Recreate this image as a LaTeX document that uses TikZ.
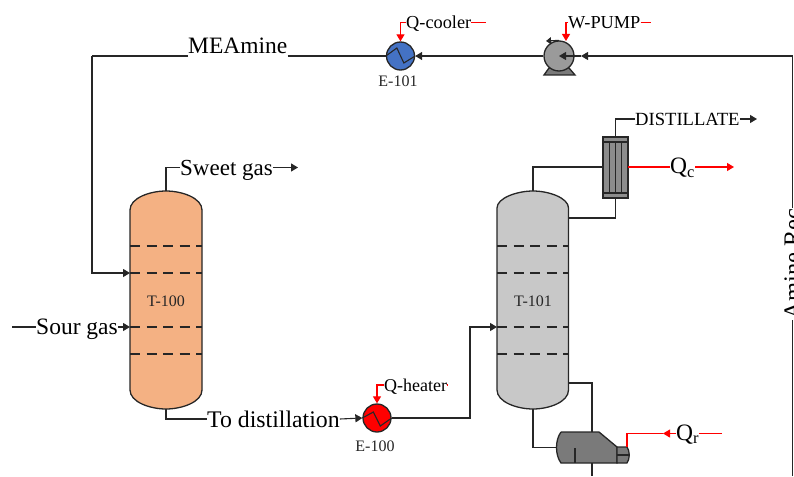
\documentclass[tikz,border=0pt]{standalone}
\usepackage{fontspec}
\setmainfont{Liberation Serif}
\usetikzlibrary{arrows.meta}
\definecolor{absorbfill}{HTML}{F4B183}
\definecolor{stillfill}{HTML}{C8C8C8}
\definecolor{coolerfill}{HTML}{4472C4}
\definecolor{pumpfill}{HTML}{9A9A9A}
\definecolor{rebfill}{HTML}{7A7A7A}
\definecolor{condfill}{HTML}{8C8C8C}
\definecolor{linegray}{HTML}{262626}
\tikzset{
    biglbl/.style={anchor=west,inner sep=0pt,text height=16pt,text depth=1pt,font=\fontsize{23.5}{24}\selectfont},
    qlbl/.style={anchor=west,inner sep=0pt,text height=14pt,text depth=1pt,font=\fontsize{23.5}{24}\selectfont},
    midlbl/.style={anchor=west,inner sep=0pt,text height=12.5pt,text depth=0.5pt,font=\fontsize{18.3}{18}\selectfont},
    tag/.style={anchor=base,inner sep=0pt,text=black!85,font=\fontsize{16}{16}\selectfont},
    stream/.style={draw=linegray,line width=1.1pt},
    heat/.style={draw=red,line width=1.1pt},
    tipin/.style={-{Triangle[length=7pt,width=8pt]}},
    shell/.style={draw=linegray,line width=1.3pt},
    tray/.style={draw=linegray,line width=1.2pt,dash pattern=on 10pt off 6.5pt},
    exch/.style={circle,draw=linegray,line width=1.3pt,minimum size=28pt,inner sep=0pt},
    zig/.style={draw=linegray,line width=1.1pt},
}
\begin{document}
\begin{tikzpicture}[x=1pt,y=-1pt]
    \useasboundingbox (0,0) rectangle (794,476);

    % columns
    \draw[shell,fill=absorbfill] (130,210) .. controls (130,198) and (150,191) .. (166,191)
        .. controls (182,191) and (202,198) .. (202,210) -- (202,390)
        .. controls (202,402) and (182,409) .. (166,409)
        .. controls (150,409) and (130,402) .. (130,390) -- cycle;
    \draw[tray] (130,246) -- (202,246);
    \draw[tray] (130,273) -- (202,273);
    \draw[tray] (130,327) -- (202,327);
    \draw[tray] (130,354) -- (202,354);
    \node[tag] (t100) at (166,306) {T-100};

    \draw[shell,fill=stillfill] (497,208) .. controls (497,198) and (517,191) .. (533,191)
        .. controls (549,191) and (568.5,198) .. (568.5,208) -- (568.5,390)
        .. controls (568.5,402) and (549,409) .. (533,409)
        .. controls (517,409) and (497,402) .. (497,390) -- cycle;
    \draw[tray] (497,246) -- (568.5,246);
    \draw[tray] (497,273) -- (568.5,273);
    \draw[tray] (497,327) -- (568.5,327);
    \draw[tray] (497,354) -- (568.5,354);
    \node[tag] (t101) at (533,306) {T-101};

    \coordinate (t100top) at (166,191);
    \coordinate (t100bot) at (166,409);
    \coordinate (t100feed) at (130,273);
    \coordinate (t100gas) at (130,327);
    \coordinate (t101top) at (533,191);
    \coordinate (t101bot) at (533,409);
    \coordinate (t101feed) at (497,327);
    \coordinate (t101reflux) at (568.5,218);
    \coordinate (t101return) at (568.5,383);

    % exchangers and pump
    \node[exch,fill=coolerfill] (e101) at (400.5,56) {};
    \draw[zig] (e101.west) -- ++(11,-8) -- ++(7,15) -- (e101.east);
    \node[tag] (e101lbl) at (398,87) {E-101};

    \node[exch,fill=red] (e100) at (377,418) {};
    \draw[zig] (e100.west) -- ++(11,-6) -- ++(7,14) -- (e100.east);
    \node[tag] (e100lbl) at (375,451) {E-100};

    \draw[shell,fill=rebfill] (544,75) -- (549,68) -- (569,68) -- (575,75) -- cycle;
    \node[exch,fill=pumpfill,minimum size=30pt] (pump) at (559,56) {};
    \draw[stream,-{Triangle[length=5pt,width=7pt]}] (pump.north) -- (546,41);
    \coordinate (pumpeye) at (559,56);

    % condenser
    \draw[shell,fill=condfill] (603,137) rectangle (628,198);
    \draw[shell] (603,142) -- (628,142);
    \draw[shell] (603,193) -- (628,193);
    \draw[shell] (609.5,142) -- (609.5,193);
    \draw[shell] (615.5,142) -- (615.5,193);
    \draw[shell] (621.5,142) -- (621.5,193);
    \coordinate (condtop) at (615.5,137);
    \coordinate (condbot) at (615.5,198);
    \coordinate (condleft) at (603,167);
    \coordinate (condright) at (628,167);

    % reboiler
    \draw[shell,fill=rebfill] (561,432) -- (599,432) -- (617,447) -- (617,463) -- (561,463)
        .. controls (555,455) and (555,440) .. (561,432);
    \draw[shell,fill=rebfill] (617,447) -- (627,447) .. controls (630,451) and (630,459) .. (627,463) -- (617,463) -- cycle;
    \draw[shell] (617,455) -- (629,455);
    \draw[shell] (575,448) -- (575,463);
    \coordinate (rebleft) at (556.5,447.5);
    \coordinate (rebtop) at (592,432);
    \coordinate (rebbot) at (592,463);
    \coordinate (rebnoz) at (627,447);

    % stream labels
    \node[biglbl,font=\fontsize{23}{24}\selectfont] (sweet) at (180,167.5) {Sweet gas};
    \node[biglbl] (sour) at (36,327) {Sour gas};
    \node[biglbl,text height=18pt,font=\fontsize{23.8}{24}\selectfont] (todist) at (207,419) {To distillation};
    \node[biglbl,text depth=20pt] (mea) at (188,56) {MEAmine};
    \node[midlbl,font=\fontsize{18.6}{18}\selectfont] (dist) at (635,119) {DISTILLATE};
    \node[midlbl] (qcool) at (406,22.5) {Q-cooler};
    \node[midlbl] (wpump) at (568,22.5) {W-PUMP};
    \node[midlbl,font=\fontsize{18}{18}\selectfont] (qheat) at (384,385) {Q-heater};
    \node[qlbl] (qc) at (670,167) {Q\textsubscript{c}};
    \node[qlbl] (qr) at (676,433.5) {Q\textsubscript{r}};
    \node[anchor=base west,inner sep=0pt,rotate=90,text height=16pt,text depth=0pt,font=\fontsize{24.5}{25}\selectfont] (recy) at (800.5,319.5) {Amine Rec};

    % free ends
    \coordinate (sweetend) at (298,167.5);
    \coordinate (sourstart) at (12,327);
    \coordinate (distend) at (757,119);
    \coordinate (qcoolend) at (486,22.5);
    \coordinate (wpumpend) at (651,22.5);
    \coordinate (qheatend) at (447,385);
    \coordinate (qcend) at (734,167);
    \coordinate (qrstart) at (722,433.5);
    \coordinate (corner) at (792.5,56);
    \coordinate (outbot) at (592,476);
    \coordinate (mealeft) at (92,56);
    \coordinate (recybot) at (792.5,476);

    % streams
    \draw[stream] (t100top) |- (sweet.west);
    \draw[stream,tipin] (sweet.east) -- (sweetend);
    \draw[stream] (sourstart) -- (sour.west);
    \draw[stream,tipin] (sour.east) -- (t100gas);
    \draw[stream] (t100bot) |- (todist.west);
    \draw[stream,tipin] (todist.east) -- (e100.west);
    \draw[stream,tipin] (e100.east) -| (470,327) -- (t101feed);
    \draw[stream] (mea.west) -- (mealeft);
    \draw[stream,tipin] (mealeft) |- (t100feed);
    \draw[stream] (mea.east) -- (e101.west);
    \draw[stream,tipin] (pump.west) -- (e101.east);
    \draw[stream,tipin] (corner) -- (581,56);
    \draw[stream,tipin] (581,56) -- (pumpeye);
    \draw[stream] (recy.east) -- (corner);
    \draw[stream] (recybot) -- (recy.west);
    \draw[stream] (t101top) |- (condleft);
    \draw[stream] (t101reflux) -| (condbot);
    \draw[stream] (condtop) |- (dist.west);
    \draw[stream,tipin] (dist.east) -- (distend);
    \draw[stream] (t101bot) |- (rebleft);
    \draw[stream] (t101return) -| (rebtop);
    \draw[stream] (rebbot) -- (outbot);

    % heat duties
    \draw[heat,tipin] (qcool.west) -| (e101.north);
    \draw[heat] (qcool.east) -- (qcoolend);
    \draw[heat,tipin] (wpump.west) -| (566,41);
    \draw[heat] (wpump.east) -- (wpumpend);
    \draw[heat,tipin] (qheat.west) -| (e100.north);
    \draw[heat] (qheat.east) -- (qheatend);
    \draw[heat] (condright) -- (qc.west);
    \draw[heat,tipin] (qc.east) -- (qcend);
    \draw[heat] (qrstart) -- (qr.east);
    \draw[heat,tipin] (qr.west) -- (663,433.5);
    \draw[heat] (663,433.5) -| (rebnoz);
\end{tikzpicture}
\end{document}
